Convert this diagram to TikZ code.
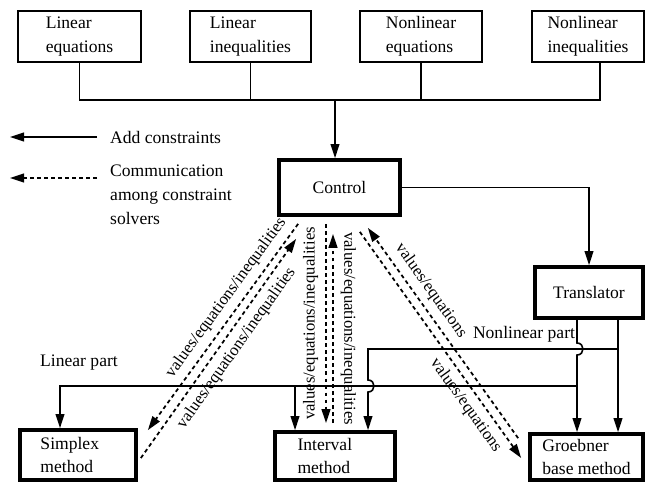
\documentclass[tikz,border=0pt]{standalone}
\usepackage{fontspec}
\setmainfont{Liberation Serif}
\usetikzlibrary{arrows.meta,positioning,calc}

\begin{document}
\begin{tikzpicture}[
 x=0.2mm,y=-0.2mm,
 every node/.style={font=\fontsize{10}{13.5}\selectfont},
 topbox/.style={draw=black,line width=1.1pt,align=left,minimum height=10.2mm},
 solver/.style={draw=black,line width=2.4pt,inner ysep=1pt},
 wire/.style={line width=0.9pt},
 arr/.style={wire,-{Triangle[length=8pt,width=5pt]}},
 comm/.style={arr,line width=1pt,dash pattern=on 2.2pt off 1.8pt},
 lab/.style={font=\fontsize{9.5}{11}\selectfont,inner sep=3.5pt}
]
\useasboundingbox (0,0) rectangle (649,484);

% constraint classes
\node[topbox,minimum width=24.6mm] (lineq) at (79.5,36.5) {Linear\\equations};
\node[topbox,minimum width=24.2mm] (linineq) at (250.5,36.5) {Linear\\inequalities};
\node[topbox,minimum width=24.4mm] (nleq) at (421,36.5) {Nonlinear\\equations};
\node[topbox,minimum width=22.4mm] (nlineq) at (588,36.5) {Nonlinear\\inequalities};
\coordinate (bus) at (335,100);

% solvers
\node[solver,minimum width=24.1mm,minimum height=10.9mm] (ctrl) at (339.5,187.5) {Control};
\node[solver,minimum width=21.5mm,minimum height=10.1mm] (trans) at (589,292.5) {Translator};
\node[solver,minimum width=23.1mm,minimum height=9.9mm,text width=15mm,align=left] (simplex) at (78,455) {Simplex\\method};
\node[solver,minimum width=23.9mm,minimum height=9.5mm,text width=15mm,align=left] (interval) at (335,456) {Interval\\method};
\node[solver,minimum width=22.5mm,minimum height=9.1mm,align=left] (groebner) at (586.5,457) {Groebner\\base method};

% legend
\node[anchor=west] (addtxt) at (104,137) {Add constraints};
\coordinate (addend) at (10,137);
\draw[arr,shorten <=1.4mm] (addtxt.west) -- (addend);
\node[anchor=north west,align=left] (commtxt) at (104,159) {Communication\\among constraint\\solvers};
\coordinate (commend) at (10,178);
\draw[comm,shorten <=1.4mm] (commend -| commtxt.west) -- (commend);

% adding constraints
\draw[wire] (lineq.south) |- (bus);
\draw[wire] (linineq.south) -- (linineq.south |- bus);
\draw[wire] (nleq.south) -- (nleq.south |- bus);
\draw[wire] ($(nlineq.south)+(12,0)$) |- (bus);
\draw[arr] (bus) -- (bus |- ctrl.north);
\draw[arr] (ctrl.east) -| (trans.north);

\coordinate (tL) at ($(trans.south)+(-12,0)$);
\coordinate (tN) at ($(trans.south)+(29,0)$);
\coordinate (iL) at ($(interval.north)+(-40,0)$);
\coordinate (iN) at ($(interval.north)+(33,0)$);
\coordinate (sL) at ($(simplex.north)+(-18,0)$);
\coordinate (nlbar) at (0,349);
\coordinate (linbar) at (0,386);

% linear part
\draw[arr] (tL) -- ($(tL |- nlbar)+(0,-6)$) .. controls +(8,0) and +(8,0) .. ($(tL |- nlbar)+(0,6)$)
  -- (tL |- groebner.north);
\draw[arr] (tL |- linbar) -| (sL);
\draw[arr] (iL |- linbar) -- (iL);
\node[above right=2mm and -5.2mm of sL |- linbar] (linpart) {Linear part};

% nonlinear part
\draw[arr] (tN) -- (tN |- groebner.north);
\draw[arr] (tN |- nlbar) -- node[above,pos=.376] (nlpart) {Nonlinear part} (iN |- nlbar)
  -- ($(iN |- linbar)+(0,-6)$) .. controls +(8,0) and +(8,0) .. ($(iN |- linbar)+(0,6)$) -- (iN);

% communication
\draw[comm] ($(ctrl.south west)+(21,7)$) -- node[lab,above,sloped,pos=.4] {values/equations/inequalities} ($(simplex.north east)+(10,2)$);
\draw[comm] ($(simplex.east)+(3,3)$) -- node[lab,below,sloped,pos=.54] {values/equations/inequalities} ($(ctrl.south west)+(19,22)$);
\draw[comm] ($(ctrl.south)+(-13.5,7)$) -- node[lab,midway,rotate=90,anchor=south,inner sep=4pt] {values/equations/inequalities} ($(interval.north)+(-9,-7)$);
\draw[comm] ($(interval.north)+(-2,-7)$) -- node[lab,midway,rotate=-90,anchor=south,inner sep=4pt] {values/equations/inequalities} ($(ctrl.south)+(-6.5,17)$);
\draw[comm] ($(groebner.north west)+(-10,6)$) -- node[lab,above,sloped,pos=.66] {values/equations} ($(ctrl.south east)+(-34,11)$);
\draw[comm] ($(ctrl.south east)+(-42,15)$) -- node[lab,below,sloped,pos=.73] {values/equations} ($(groebner.west)+(-7,1)$);
\end{tikzpicture}
\end{document}
